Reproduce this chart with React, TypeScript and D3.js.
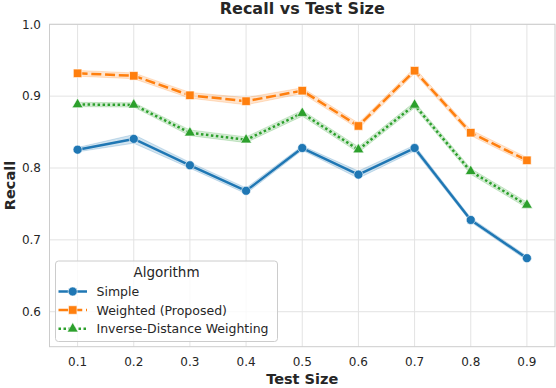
import React, { useRef, useEffect } from 'react';
import * as d3 from 'd3';

const testSizes = [0.1, 0.2, 0.3, 0.4, 0.5, 0.6, 0.7, 0.8, 0.9];
const simpleRecall = [0.8255, 0.8405, 0.8038, 0.7683, 0.8278, 0.7908, 0.8278, 0.7277, 0.6745];
const weightedRecall = [0.9318, 0.9283, 0.9012, 0.893, 0.9076, 0.8585, 0.9354, 0.8491, 0.8107];
const idwRecall = [0.8884, 0.8878, 0.849, 0.8393, 0.8762, 0.8255, 0.8877, 0.7953, 0.7485];
const simpleErr = [0.003, 0.006, 0.004, 0.004, 0.003, 0.005, 0.004, 0.003, 0.003];
const weightedErr = [0.004, 0.004, 0.004, 0.005, 0.004, 0.004, 0.004, 0.004, 0.004];
const idwErr = [0.003, 0.003, 0.004, 0.004, 0.004, 0.004, 0.004, 0.004, 0.004];
const seriesNames = ['Simple', 'Weighted (Proposed)', 'Inverse-Distance Weighting'];
const xTicks = [0.1, 0.2, 0.3, 0.4, 0.5, 0.6, 0.7, 0.8, 0.9];
const yTicks = [0.6, 0.7, 0.8, 0.9, 1.0];

const FONT = 'DejaVu Sans, sans-serif';

export default function App() {
  const ref = useRef<HTMLDivElement>(null);

  useEffect(() => {
    const root = d3.select(ref.current);
    root.selectAll('*').remove();

    const W = 556;
    const H = 388;
    const left = 49.5, right = 555, top = 24.3, bottom = 346.7;

    const svg = root
      .append('svg')
      .attr('width', W)
      .attr('height', H)
      .style('display', 'block')
      .style('font-family', FONT);

    svg.append('rect').attr('width', W).attr('height', H).attr('fill', '#fff');

    const x = d3.scaleLinear().domain([0.05, 0.95]).range([left, right]);
    const y = d3.scaleLinear().domain([0.5513, 1.0]).range([bottom, top]);

    // grid
    const grid = svg.append('g');
    grid.selectAll('line.v').data(xTicks).enter().append('line')
      .attr('x1', (d) => x(d)).attr('x2', (d) => x(d))
      .attr('y1', top).attr('y2', bottom)
      .attr('stroke', '#e3e3e3').attr('stroke-width', 1);
    grid.selectAll('line.h').data(yTicks).enter().append('line')
      .attr('y1', (d) => y(d)).attr('y2', (d) => y(d))
      .attr('x1', left).attr('x2', right)
      .attr('stroke', '#e3e3e3').attr('stroke-width', 1);

    // frame
    svg.append('rect')
      .attr('x', left).attr('y', top)
      .attr('width', right - left).attr('height', bottom - top)
      .attr('fill', 'none').attr('stroke', '#cccccc').attr('stroke-width', 1);

    // tick labels
    svg.append('g').selectAll('text').data(xTicks).enter().append('text')
      .attr('x', (d) => x(d)).attr('y', 365.5)
      .attr('text-anchor', 'middle').attr('font-size', 12).attr('fill', '#262626')
      .text((d) => d3.format('.1f')(d));
    svg.append('g').selectAll('text').data(yTicks).enter().append('text')
      .attr('x', 41).attr('y', (d) => y(d)).attr('dy', '0.36em')
      .attr('text-anchor', 'end').attr('font-size', 12).attr('fill', '#262626')
      .text((d) => d3.format('.1f')(d));

    // labels
    svg.append('text')
      .attr('x', (left + right) / 2).attr('y', 14)
      .attr('text-anchor', 'middle').attr('font-size', 16).attr('font-weight', 'bold')
      .attr('fill', '#262626').text('Recall vs Test Size');
    svg.append('text')
      .attr('x', (left + right) / 2).attr('y', 384)
      .attr('text-anchor', 'middle').attr('font-size', 14.5).attr('font-weight', 'bold')
      .attr('fill', '#262626').text('Test Size');
    svg.append('text')
      .attr('transform', `translate(15,${(top + bottom) / 2}) rotate(-90)`)
      .attr('text-anchor', 'middle').attr('font-size', 14.5).attr('font-weight', 'bold')
      .attr('fill', '#262626').text('Recall');

    const series = [
      { name: seriesNames[0], values: simpleRecall, err: simpleErr, color: '#1f77b4', dash: null, marker: d3.symbolCircle, msize: 64 },
      { name: seriesNames[1], values: weightedRecall, err: weightedErr, color: '#ff7f0e', dash: '10,3.75', marker: d3.symbolSquare, msize: 72 },
      { name: seriesNames[2], values: idwRecall, err: idwErr, color: '#2ca02c', dash: '2.5,2.5', marker: d3.symbolTriangle, msize: 52 },
    ];

    const plot = svg.append('g');

    series.forEach((s) => {
      const pts = testSizes.map((t, i) => ({ t, v: s.values[i], e: s.err[i] }));
      const area = d3.area<any>()
        .x((d) => x(d.t))
        .y0((d) => y(d.v - d.e))
        .y1((d) => y(d.v + d.e));
      plot.append('path').datum(pts)
        .attr('d', area)
        .attr('fill', s.color).attr('fill-opacity', 0.2)
        .attr('stroke', s.color).attr('stroke-opacity', 0.2).attr('stroke-width', 1);
    });

    series.forEach((s) => {
      const pts = testSizes.map((t, i) => ({ t, v: s.values[i] }));
      const line = d3.line<any>().x((d) => x(d.t)).y((d) => y(d.v));
      const p = plot.append('path').datum(pts)
        .attr('d', line)
        .attr('fill', 'none').attr('stroke', s.color).attr('stroke-width', 2.5)
        .attr('stroke-linejoin', 'round');
      if (s.dash) p.attr('stroke-dasharray', s.dash);
      plot.append('g').selectAll('path').data(pts).enter().append('path')
        .attr('d', d3.symbol().type(s.marker).size(s.msize)())
        .attr('transform', (d) => `translate(${x(d.t)},${y(d.v)})`)
        .attr('fill', s.color).attr('stroke', '#fff').attr('stroke-width', 0.6);
    });

    // legend
    const lg = svg.append('g');
    lg.append('rect')
      .attr('x', 55.5).attr('y', 261).attr('width', 222).attr('height', 80.5)
      .attr('rx', 3).attr('fill', '#fff').attr('fill-opacity', 0.8)
      .attr('stroke', '#cccccc').attr('stroke-width', 1);
    lg.append('text')
      .attr('x', 166.5).attr('y', 276.5)
      .attr('text-anchor', 'middle').attr('font-size', 13.5).attr('fill', '#262626')
      .text('Algorithm');
    const rowY = [291.5, 310, 328.8];
    series.forEach((s, i) => {
      const ly = rowY[i];
      const l = lg.append('line')
        .attr('x1', 58.5).attr('x2', 87).attr('y1', ly).attr('y2', ly)
        .attr('stroke', s.color).attr('stroke-width', 2.5);
      if (s.dash) l.attr('stroke-dasharray', s.dash);
      lg.append('path')
        .attr('d', d3.symbol().type(s.marker).size(s.msize)())
        .attr('transform', `translate(72.7,${ly})`)
        .attr('fill', s.color).attr('stroke', '#fff').attr('stroke-width', 0.6);
      lg.append('text')
        .attr('x', 96.5).attr('y', ly).attr('dy', '0.36em')
        .attr('font-size', 12.5).attr('fill', '#262626')
        .text(s.name);
    });
  }, []);

  return <div ref={ref} style={{ position: 'absolute', left: 0, top: 0 }} />;
}
